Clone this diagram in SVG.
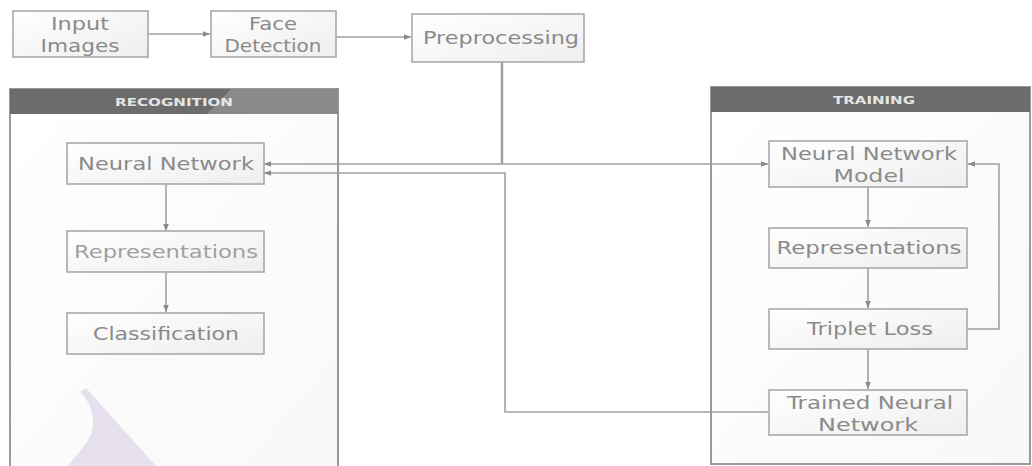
<svg xmlns="http://www.w3.org/2000/svg" width="1032" height="466" viewBox="0 0 1032 466">
  <defs>
    <linearGradient id="boxFill" x1="0" y1="0" x2="1" y2="1">
      <stop offset="0" stop-color="#ffffff"/>
      <stop offset="1" stop-color="#eeeeee"/>
    </linearGradient>
    <linearGradient id="panelFill" x1="0" y1="0" x2="1" y2="1">
      <stop offset="0" stop-color="#ffffff"/>
      <stop offset="1" stop-color="#f8f8f8"/>
    </linearGradient>
    <marker id="arrow" viewBox="0 0 10 10" refX="10" refY="5" markerWidth="7" markerHeight="7" markerUnits="userSpaceOnUse" orient="auto">
      <path d="M0,1 L10,5 L0,9 Z" fill="#8a8a8a"/>
    </marker>
  </defs>
  <style>
    .node rect { fill: url(#boxFill); stroke: #a9a9a9; stroke-width: 1.6; }
    .node text { font-family: "DejaVu Sans", "Open Sans", "Liberation Sans", sans-serif; font-size: 18px; fill: #8a8a8a; text-anchor: middle; }
    .panel .body { fill: url(#panelFill); stroke: #9a9a9a; stroke-width: 2; }
    .panel .head { fill: #6c6c6c; }
    .panel .shine { fill: #8a8a8a; }
    .panel text { font-family: "DejaVu Sans", "Open Sans", "Liberation Sans", sans-serif; font-size: 11px; font-weight: bold; fill: #e6e6e6; text-anchor: middle; }
    .link { fill: none; stroke: #a0a0a0; stroke-width: 1.6; }
    .link.arrowed { marker-end: url(#arrow); }
  </style>

  <rect width="1032" height="466" fill="#ffffff"/>

  <!-- swimlane panels -->
  <g id="panel-recognition" class="panel">
    <rect class="body" x="10" y="89" width="328" height="390"/>
    <rect class="head" x="10" y="89" width="328" height="25"/>
    <polygon class="shine" points="231,89 338,89 338,114 207,114"/>
    <text x="174" y="106" textLength="118" lengthAdjust="spacingAndGlyphs">RECOGNITION</text>
  </g>
  <g id="panel-training" class="panel">
    <rect class="body" x="711" y="87" width="319" height="377"/>
    <rect class="head" x="711" y="87" width="319" height="25"/>
    <text x="874" y="104" textLength="82" lengthAdjust="spacingAndGlyphs">TRAINING</text>
  </g>

  <!-- faint background emblem -->
  <path d="M80,392 L86,388 L156,466 L68,466 C80,450 95,438 93,420 C92,408 88,400 80,392 Z" fill="#e6e0ee"/>

  <!-- connectors -->
  <g id="connectors">
    <path class="link arrowed" d="M148,34 H210"/>
    <path class="link arrowed" d="M336,37 H411"/>
    <path class="link" d="M502,62 V164" style="stroke-width:2.4"/>
    <path class="link arrowed" d="M502,164 H264"/>
    <path class="link arrowed" d="M502,164 H768"/>
    <path class="link arrowed" d="M768,412 H505 V173 H264"/>
    <path class="link arrowed" d="M166,184 V231"/>
    <path class="link arrowed" d="M166,272 V312"/>
    <path class="link arrowed" d="M868,187 V227"/>
    <path class="link arrowed" d="M868,268 V308"/>
    <path class="link arrowed" d="M868,349 V389"/>
    <path class="link arrowed" d="M968,329 H999 V164 H968"/>
  </g>

  <!-- top pipeline -->
  <g id="node-input" class="node">
    <rect x="13" y="11" width="135" height="46"/>
    <text x="80" y="30" textLength="58" lengthAdjust="spacingAndGlyphs">Input</text>
    <text x="80" y="51.5" textLength="79" lengthAdjust="spacingAndGlyphs">Images</text>
  </g>
  <g id="node-face" class="node">
    <rect x="211" y="11" width="125" height="46"/>
    <text x="273" y="30" textLength="48" lengthAdjust="spacingAndGlyphs">Face</text>
    <text x="273" y="51.5" textLength="97" lengthAdjust="spacingAndGlyphs">Detection</text>
  </g>
  <g id="node-pre" class="node">
    <rect x="412" y="14" width="172" height="48"/>
    <text x="501" y="44" textLength="156" lengthAdjust="spacingAndGlyphs">Preprocessing</text>
  </g>

  <!-- recognition lane -->
  <g id="node-rec-nn" class="node">
    <rect x="67" y="143" width="197" height="41"/>
    <text x="166" y="170" textLength="176" lengthAdjust="spacingAndGlyphs">Neural Network</text>
  </g>
  <g id="node-rec-rep" class="node">
    <rect x="67" y="231" width="197" height="41"/>
    <text x="166" y="258" textLength="184" lengthAdjust="spacingAndGlyphs" style="fill:#a0a0a0">Representations</text>
  </g>
  <g id="node-rec-class" class="node">
    <rect x="67" y="313" width="197" height="41"/>
    <text x="166" y="340" textLength="146" lengthAdjust="spacingAndGlyphs">Classification</text>
  </g>

  <!-- training lane -->
  <g id="node-tr-model" class="node">
    <rect x="769" y="141" width="198" height="46"/>
    <text x="869" y="160" textLength="176" lengthAdjust="spacingAndGlyphs">Neural Network</text>
    <text x="869" y="181.5" textLength="71" lengthAdjust="spacingAndGlyphs">Model</text>
  </g>
  <g id="node-tr-rep" class="node">
    <rect x="769" y="228" width="198" height="40"/>
    <text x="869" y="254" textLength="185" lengthAdjust="spacingAndGlyphs">Representations</text>
  </g>
  <g id="node-tr-loss" class="node">
    <rect x="769" y="309" width="198" height="40"/>
    <text x="870" y="335" textLength="126" lengthAdjust="spacingAndGlyphs">Triplet Loss</text>
  </g>
  <g id="node-tr-trained" class="node">
    <rect x="769" y="390" width="198" height="45"/>
    <text x="870" y="409" textLength="166" lengthAdjust="spacingAndGlyphs">Trained Neural</text>
    <text x="868" y="430.5" textLength="100" lengthAdjust="spacingAndGlyphs">Network</text>
  </g>
</svg>
